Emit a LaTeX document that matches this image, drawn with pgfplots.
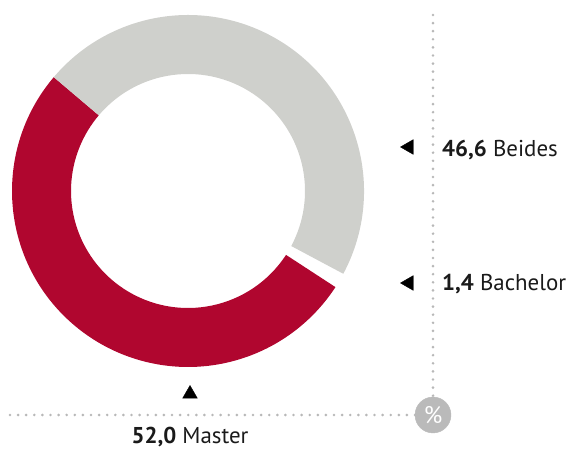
\documentclass[border=0pt]{standalone}
\usepackage{fontspec}
\setmainfont{PT Sans}
\usepackage{pgfplots}
\pgfplotsset{compat=1.18}
\usetikzlibrary{calc}
\definecolor{MasterRed}{HTML}{B0062F}
\definecolor{BeidesGrey}{HTML}{CFD0CC}
\definecolor{DotGrey}{HTML}{B8B8B8}
\definecolor{BadgeGrey}{HTML}{BABABA}
\definecolor{TxtColor}{HTML}{1A1A1A}

% shares in percent
\def\master{52.0}
\def\bachelor{1.4}
\def\beides{46.6}

\begin{document}
\begin{tikzpicture}
\begin{axis}[
    scale only axis,
    width=568bp, height=452bp,
    xmin=0, xmax=568, ymin=0, ymax=452,
    hide axis, clip=false
]
\coordinate (ll) at (axis cs:0,0);
\coordinate (ur) at (axis cs:568,452);

% donut segments (counter-clockwise from 139.7 deg)
\pgfmathsetmacro{\aA}{139.7}
\pgfmathsetmacro{\aB}{\aA+3.6*\master}
\pgfmathsetmacro{\aC}{\aB+3.6*\bachelor}
\pgfmathsetmacro{\aD}{\aC+3.6*\beides}
\coordinate (c) at (axis cs:188,261);
\fill[MasterRed] ($(c)+(\aA:176bp)$) arc[start angle=\aA,end angle=\aB,radius=176bp]
    -- ($(c)+(\aB:117bp)$) arc[start angle=\aB,end angle=\aA,radius=117bp] -- cycle;
\fill[BeidesGrey] ($(c)+(\aC:176bp)$) arc[start angle=\aC,end angle=\aD,radius=176bp]
    -- ($(c)+(\aD:117bp)$) arc[start angle=\aD,end angle=\aC,radius=117bp] -- cycle;

% dotted guide lines
\addplot[DotGrey, line width=2.9bp, line cap=round, dash pattern=on 0bp off 8.1bp]
    coordinates {(433,437) (433,55)};
\addplot[DotGrey, line width=2.9bp, line cap=round, dash pattern=on 0bp off 8.1bp]
    coordinates {(10,37) (415,37)};

% percent badge
\addplot[BadgeGrey, only marks, mark=*, mark size=18bp, mark options={fill=BadgeGrey, draw=BadgeGrey}]
    coordinates {(433,37)};
\coordinate (pct) at (axis cs:433,37);

% pointers
\addplot[black, only marks, mark=triangle*, mark size=8.5bp, mark options={fill=black, draw=black, rotate=90}]
    coordinates {(409,305) (409,169)};
\addplot[black, only marks, mark=triangle*, mark size=8.5bp, mark options={fill=black, draw=black}]
    coordinates {(190,58)};

% labels
\node[anchor=west, inner sep=0pt, text=TxtColor, font=\fontsize{23}{26}\selectfont] at (axis cs:442,302) {\textbf{46,6} Beides};
\node[anchor=west, inner sep=0pt, text=TxtColor, font=\fontsize{23}{26}\selectfont] at (axis cs:442,168) {\textbf{1,4} Bachelor};
\node[inner sep=0pt, text=TxtColor, font=\fontsize{23}{26}\selectfont] at (axis cs:190,15) {\textbf{52,0} Master};
\end{axis}
\node[text=white, font=\fontsize{24}{26}\selectfont] at (pct) {\%};
\pgfresetboundingbox
\path[use as bounding box] (ll) rectangle (ur);
\end{tikzpicture}
\end{document}
